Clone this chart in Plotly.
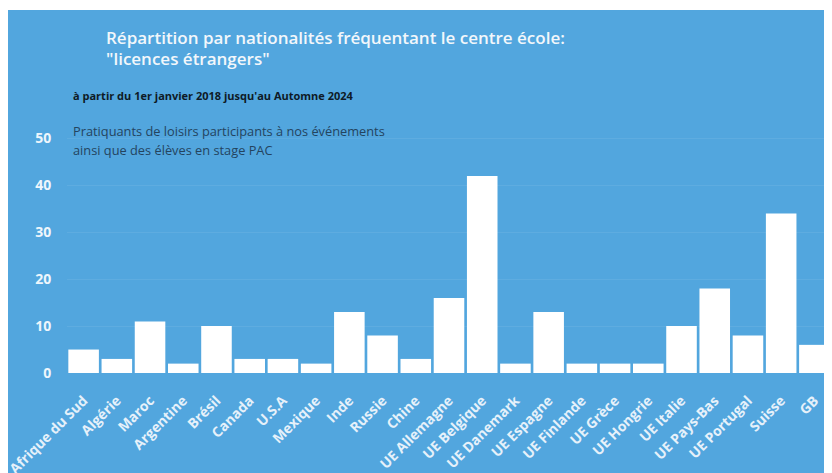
import plotly.graph_objects as go

categories = ["Afrique du Sud", "Algérie", "Maroc", "Argentine", "Brésil", "Canada", "U.S.A",
              "Mexique", "Inde", "Russie", "Chine", "UE Allemagne", "UE Belgique", "UE Danemark",
              "UE Espagne", "UE Finlande", "UE Grèce", "UE Hongrie", "UE Italie", "UE Pays-Bas",
              "UE Portugal", "Suisse", "GB"]
values = [5, 3, 11, 2, 10, 3, 3, 2, 13, 8, 3, 16, 42, 2, 13, 2, 2, 2, 10, 18, 8, 34, 6]
y_ticks = [0, 10, 20, 30, 40, 50]

# page body has an 8px default margin; figure placed at (8, 8) in the window
OFF = 8
W, H = 832 - OFF, 473 - OFF
L, R = 67 - OFF, 1
y0 = 373 - OFF          # pixel (in figure) of y=0
T = 129 - OFF
B = H - y0
pw, ph = W - L - R, H - T - B

def px_x(x):  # window pixel -> paper fraction
    return (x - OFF - L) / pw

def px_y(y):
    return (y0 - (y - OFF)) / ph

BG = "#52A6DE"
font = "Open Sans"

fig = go.Figure(go.Bar(
    x=categories, y=values,
    marker=dict(color="#FFFFFF", line=dict(width=0)),
))

fig.update_layout(
    width=W, height=H,
    margin=dict(l=L, r=R, t=T, b=B, autoexpand=False),
    paper_bgcolor="white",
    plot_bgcolor=BG,
    bargap=0.08,
    showlegend=False,
    font=dict(family=font),
    shapes=[dict(type="rect", xref="paper", yref="paper",
                 x0=px_x(7), x1=px_x(840), y0=px_y(480), y1=px_y(10),
                 fillcolor=BG, line=dict(width=0), layer="below")],
    xaxis=dict(
        tickangle=-45,
        automargin=False,
        tickfont=dict(color="#E6F1FA", size=14, family=font, weight="bold"),
        showgrid=False, zeroline=False, showline=False,
        ticks="outside", ticklen=13, tickcolor="rgba(0,0,0,0)",
    ),
    yaxis=dict(
        range=[0, 52],
        automargin=False,
        tickvals=y_ticks,
        tickfont=dict(color="#EEF6FC", size=14, family=font, weight="bold"),
        showgrid=True, gridcolor="rgba(255,255,255,0.07)", gridwidth=1,
        zeroline=False, showline=False,
        ticks="outside", ticklen=12, tickcolor="rgba(0,0,0,0)",
    ),
    annotations=[
        dict(xref="paper", yref="paper", x=px_x(104), y=px_y(37),
             xanchor="left", yanchor="middle", showarrow=False,
             text="Répartition par nationalités fréquentant le centre école:",
             font=dict(color="#F2F7FB", size=17, family=font, weight=600)),
        dict(xref="paper", yref="paper", x=px_x(104), y=px_y(58),
             xanchor="left", yanchor="middle", showarrow=False,
             text="\"licences étrangers\"",
             font=dict(color="#F2F7FB", size=17, family=font, weight=600)),
        dict(xref="paper", yref="paper", x=px_x(71), y=px_y(96),
             xanchor="left", yanchor="middle", showarrow=False,
             text="à partir du 1er janvier 2018 jusqu'au Automne 2024",
             font=dict(color="#0E1A26", size=11, family=font, weight="bold")),
        dict(xref="paper", yref="paper", x=px_x(71), y=px_y(131),
             xanchor="left", yanchor="middle", showarrow=False,
             text="Pratiquants de loisirs participants à nos événements",
             font=dict(color="#24445F", size=12.8, family=font)),
        dict(xref="paper", yref="paper", x=px_x(71), y=px_y(150),
             xanchor="left", yanchor="middle", showarrow=False,
             text="ainsi que des élèves en stage PAC",
             font=dict(color="#24445F", size=12.8, family=font)),
    ],
)

fig.write_html("out.html")
